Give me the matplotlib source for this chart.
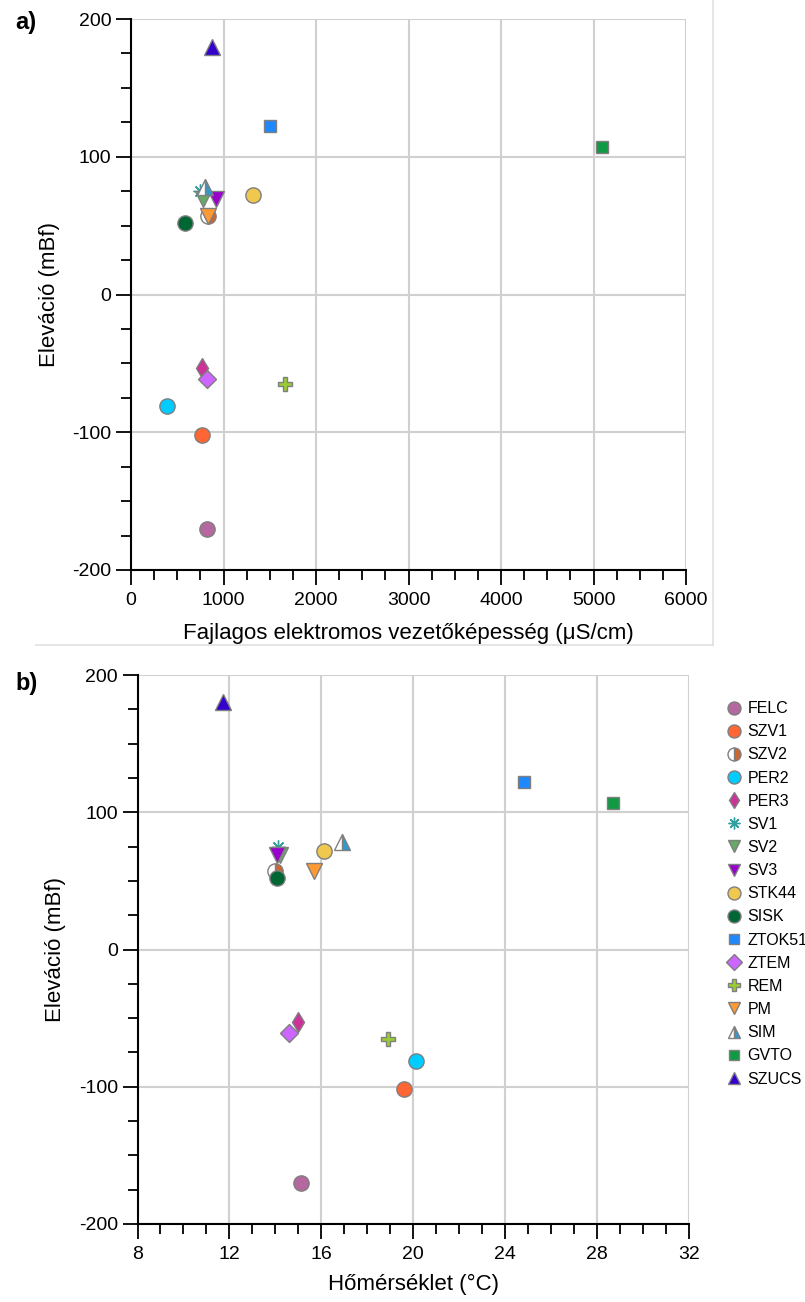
import matplotlib
matplotlib.use("Agg")
import matplotlib.pyplot as plt
from matplotlib.ticker import MultipleLocator
from matplotlib.lines import Line2D

plt.rcParams['font.family'] = ['Liberation Sans', 'DejaVu Sans']
plt.rcParams['axes.unicode_minus'] = False

names = ["FELC", "SZV1", "SZV2", "PER2", "PER3", "SV1", "SV2", "SV3", "STK44",
         "SISK", "ZTOK51", "ZTEM", "REM", "PM", "SIM", "GVTO", "SZUCS"]
elevation = [-170, -102, 57, -81, -53, 75, 69, 69, 72,
             52, 122, -61, -65, 57, 78, 107, 180]
conductivity = [818, 771, 836, 389, 771, 746, 775, 919, 1316,
                584, 1503, 818, 1668, 836, 800, 5092, 876]
temperature = [15.1, 19.6, 14.0, 20.1, 15.0, 14.1, 14.2, 14.08, 16.1,
               14.08, 24.8, 14.6, 18.9, 15.7, 16.9, 28.7, 11.7]

colors = ["#b5679f", "#ff6633", "#cc6633", "#00ccff", "#cc3399", "#33a0a0",
          "#66aa66", "#9900cc", "#f0c850", "#006633", "#1e88ff", "#cc66ff",
          "#99cc33", "#ff9933", "#3399cc", "#119944", "#3300cc"]
markers = ["o", "o", "o", "o", "d", (8, 2, 0), "v", "v", "o",
           "o", "s", "D", "P", "v", "^", "s", "^"]
sizes = [11, 11, 11, 11, 10, 10, 11, 11, 11, 11, 9, 9, 10, 11, 11, 9, 11]
fills = ["full"] * 17
fills[2] = "right"
fills[14] = "right"

W, H = 805, 1302
fig = plt.figure(figsize=(W / 100, H / 100), dpi=100)

def add_ax(l, r, t, b):
    return fig.add_axes([l / W, 1 - b / H, (r - l) / W, (b - t) / H])

ax1 = add_ax(131, 686, 19, 570)
ax2 = add_ax(137.5, 689, 675, 1224)

def plot_points(ax, xs):
    for i, nm in enumerate(names):
        mk = markers[i]
        ec = "#7f7f7f"
        if mk == (8, 2, 0):
            ec = colors[i]
        ax.plot(xs[i], elevation[i], linestyle="none", marker=mk,
                markersize=sizes[i], markerfacecolor=colors[i],
                markerfacecoloralt="white", fillstyle=fills[i],
                markeredgecolor=ec, markeredgewidth=1.0, label=nm,
                clip_on=False, zorder=3)

def style(ax):
    for s in ["top", "right"]:
        ax.spines[s].set_visible(False)
    for s in ["left", "bottom"]:
        ax.spines[s].set_linewidth(1.5)
        ax.spines[s].set_color("black")
    ax.grid(True, which="major", color="#d0d0d0", linewidth=1.5, zorder=0)
    ax.set_axisbelow(True)
    ax.tick_params(which="major", direction="out", length=11, width=1.3,
                   labelsize=14, colors="black", pad=3)
    ax.tick_params(axis="x", which="major", pad=5)
    ax.tick_params(which="minor", direction="out", length=7, width=1.3)
    ax.set_ylim(-200, 200)
    ax.yaxis.set_major_locator(MultipleLocator(100))
    ax.yaxis.set_minor_locator(MultipleLocator(25))
    ax.set_ylabel("Eleváció (mBf)", fontsize=16, labelpad=9)

plot_points(ax1, conductivity)
style(ax1)
ax1.set_xlim(0, 6000)
ax1.xaxis.set_major_locator(MultipleLocator(1000))
ax1.xaxis.set_minor_locator(MultipleLocator(250))
ax1.set_xlabel("Fajlagos elektromos vezetőképesség (μS/cm)", fontsize=16, labelpad=10)

plot_points(ax2, temperature)
style(ax2)
ax2.set_xlim(8, 32)
ax2.xaxis.set_major_locator(MultipleLocator(4))
ax2.xaxis.set_minor_locator(MultipleLocator(1))
ax2.set_xlabel("Hőmérséklet (°C)", fontsize=16, labelpad=8)

handles, labels = ax2.get_legend_handles_labels()
leg = fig.legend(handles, labels, loc="upper left",
                 bbox_to_anchor=(715 / W, 1 - 690 / H), frameon=False,
                 fontsize=11.5, handletextpad=0.35, labelspacing=0.51,
                 handlelength=1.0, markerscale=0.85, borderpad=0.2)

# panel labels
fig.text(15 / W, 1 - 22 / H, "a)", fontsize=17, fontweight="bold", va="center")
fig.text(15 / W, 1 - 684 / H, "b)", fontsize=17, fontweight="bold", va="center")

# light frame around panel a
fig.add_artist(Line2D([36 / W, 713 / W], [1 - 645 / H, 1 - 645 / H],
                      color="#e0e0e0", linewidth=1.2))
fig.add_artist(Line2D([713 / W, 713 / W], [1 - 645 / H, 1.0],
                      color="#e0e0e0", linewidth=1.2))

fig.savefig("out.png", dpi=100)
